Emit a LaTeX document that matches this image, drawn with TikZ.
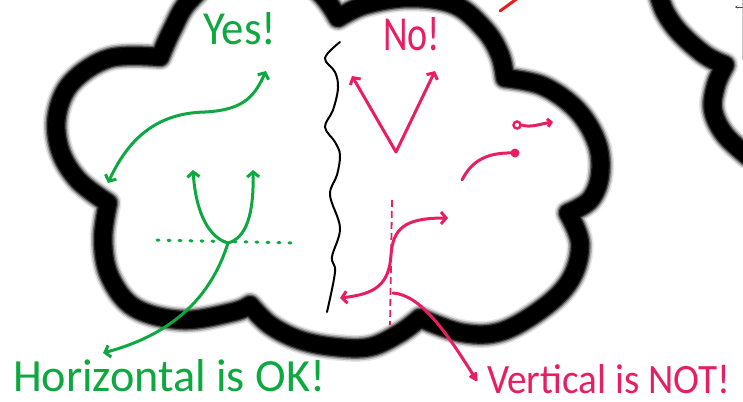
\documentclass[tikz,border=0pt]{standalone}
\usepackage{fontspec}
\setmainfont{Carlito}
\usetikzlibrary{arrows.meta}
\definecolor{yesgreen}{RGB}{14,168,64}
\definecolor{nopink}{RGB}{232,30,98}
\definecolor{markred}{RGB}{232,30,30}
% outline of the thought cloud, lobe by lobe (cusp to cusp)
\newcommand\cloudoutline{%
  plot[smooth,tension=0.6] coordinates {(160,57) (172,30) (190,0) (230,-30) (290,-30) (322,-5) (338,18)}
  -- plot[smooth,tension=0.6] coordinates {(338,18) (365,5) (410,-2) (455,5) (485,30) (500,55) (505,78)}
  -- plot[smooth,tension=0.6] coordinates {(505,78) (543,86) (577,110) (597,143) (600,175) (590,200) (568,213)}
  -- plot[smooth,tension=0.6] coordinates {(568,213) (580,243) (572,277) (547,305) (503,331) (463,333) (420,318)}
  -- plot[smooth,tension=0.6] coordinates {(420,318) (400,333) (370,347) (335,347) (300,340) (270,325) (250,305)}
  -- plot[smooth,tension=0.6] coordinates {(250,305) (233,312) (183,320) (135,308) (110,277) (103,240) (108,203)}
  -- plot[smooth,tension=0.6] coordinates {(108,203) (78,180) (60,150) (57,115) (72,82) (110,58) (160,57)}
  -- cycle}
% edge of the neighbouring cloud
\newcommand\sidecloud{%
  plot[smooth,tension=0.6] coordinates {(658,-8) (665,12) (680,33) (705,55) (725,65)}
  -- plot[smooth,tension=0.6] coordinates {(725,65) (716,85) (713,110) (725,135) (750,158)}}
\tikzset{
  pen/.style={line width=3pt, line cap=round, line join=round},
  barb/.tip={Straight Barb[length=5pt,width=12pt]},
  smallbarb/.tip={Straight Barb[length=3.5pt,width=8pt]},
  softedge/.style={line width=#1, line join=round},
  textlabel/.style={inner sep=0pt, anchor=base west}
}
\begin{document}
\begin{tikzpicture}[x=1pt,y=-1pt]
\useasboundingbox (0,0) rectangle (743,401);
\fill[white] (0,0) rectangle (743,401);
\clip (0,0) rectangle (743,401);

% clouds: a soft black rim built from layered strokes
\foreach \w/\o in {27pt/0.1, 24pt/0.22, 21pt/0.4, 18.5pt/0.7, 16pt/1} {
  \draw[black, opacity=\o, softedge=\w] \cloudoutline;
  \draw[black, opacity=\o, softedge=\w] \sidecloud;
}

% stray red mark at the top
\draw[markred, line width=3pt, line cap=round] (500,11) -- (518,-2);

% small grey widget at the right edge
\draw[gray!45, line width=0.8pt] (742,0) -- (742,60);
\draw[gray!60!black, line width=0.6pt, -{Stealth[length=2.5pt,width=3pt]}] (743,7) -- (735,7);

% dividing wavy line
\draw[black, line width=2pt, line cap=round]
  plot[smooth,tension=0.6] coordinates {(340,42) (325,58) (335,72) (338,88) (333,110) (325,127) (335,142) (340,155) (337,175) (330,195) (340,228) (332,257) (335,272) (327,312)};

% ---------- Yes! side ----------
\node[textlabel, yesgreen] (yes) at (203,45) {\resizebox{73pt}{32pt}{Yes!}};

\coordinate (s1) at (108,183);
\coordinate (s2) at (266,71);
\draw[yesgreen, pen, barb-barb] (s1) .. controls (130,135) and (160,113) .. (205,112)
  .. controls (245,110) and (255,95) .. (s2);

\coordinate (u1) at (193,170);
\coordinate (vtx) at (228,243);
\coordinate (u2) at (253,170);
\draw[yesgreen, pen, barb-barb] (u1) .. controls (196,215) and (210,238) .. (vtx)
  .. controls (246,238) and (254,215) .. (u2);

\coordinate (h1) at (157,240);
\coordinate (h2) at (292,243);
\draw[yesgreen, line width=3pt, line cap=round, dash pattern=on 2pt off 9pt] (h1) -- (h2);

\node[textlabel, yesgreen] (horiz) at (13,391) {\resizebox{312pt}{32pt}{Horizontal is OK!}};
\coordinate (hTip) at (103,353);
\draw[yesgreen, pen, -barb] (vtx) .. controls (210,300) and (170,335) .. (hTip);

% ---------- No! side ----------
\node[textlabel, nopink] (no) at (383,51) {\resizebox{57pt}{33pt}{No!}};

\coordinate (v1) at (352,76);
\coordinate (v0) at (396,152);
\coordinate (v2) at (435,71);
\draw[nopink, pen, barb-barb] (v1) -- (v0) -- (v2);

\node[draw=nopink, line width=2.5pt, circle, minimum size=7pt, inner sep=0pt] (ring) at (517,125) {};
\coordinate (ringTip) at (553,122);
\draw[nopink, pen, -smallbarb] (ring.east) .. controls (530,128) and (540,124) .. (ringTip);

\node[fill=nopink, circle, minimum size=9pt, inner sep=0pt] (dot) at (515,153) {};
\coordinate (dotStart) at (462,180);
\draw[nopink, pen] (dotStart) .. controls (472,160) and (488,152) .. (dot.center);

\coordinate (d1) at (392,200);
\coordinate (d2) at (390,325);
\draw[nopink, line width=1.8pt, dash pattern=on 7pt off 4pt] (d1) -- (d2);

\coordinate (p1) at (340,298);
\coordinate (p2) at (448,218);
\draw[nopink, pen, barb-barb] (p1) .. controls (375,294) and (389,285) .. (391,255)
  .. controls (393,228) and (405,218) .. (p2);

\node[textlabel, nopink] (vert) at (487,393) {\resizebox{243pt}{29pt}{Vertical is NOT!}};
\coordinate (vStart) at (393,293);
\coordinate (vTip) at (477,381);
\draw[nopink, pen, -{Triangle[length=10pt,width=10pt,round]}] (vStart) .. controls (420,295) and (445,330) .. (vTip);
\end{tikzpicture}
\end{document}
